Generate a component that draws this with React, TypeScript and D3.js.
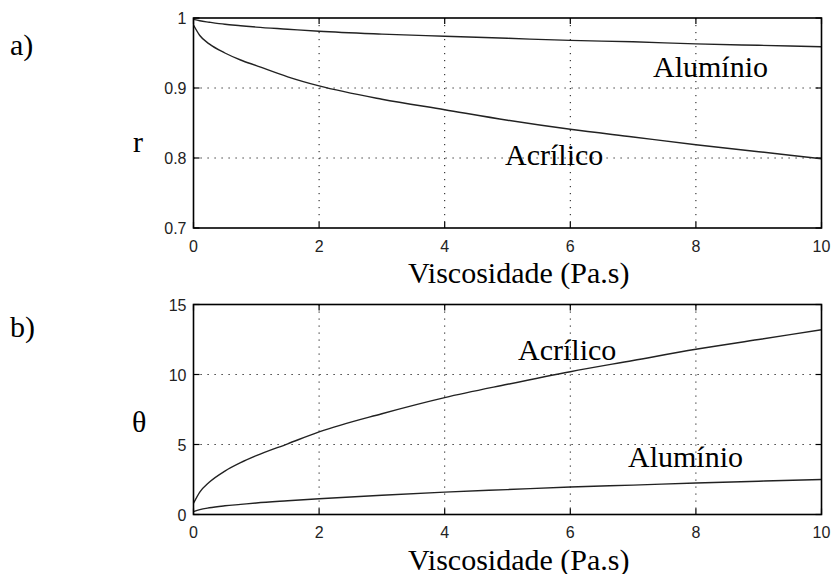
import React from "react";
import * as d3 from "d3";

// Viscosity samples (Pa.s) and the curves read at those points
const viscosity = [0, 0.1, 0.25, 0.5, 0.75, 1, 1.5, 2, 3, 4, 5, 6, 7, 8, 9, 10];
const rAluminio = [0.998, 0.996, 0.994, 0.991, 0.989, 0.987, 0.984, 0.981, 0.977, 0.974, 0.971, 0.968, 0.966, 0.963, 0.961, 0.959];
const rAcrilico = [0.99, 0.975, 0.963, 0.95, 0.94, 0.932, 0.916, 0.903, 0.884, 0.869, 0.854, 0.841, 0.83, 0.819, 0.809, 0.799];
const thetaAluminio = [0.2, 0.35, 0.48, 0.62, 0.72, 0.82, 0.98, 1.13, 1.38, 1.6, 1.78, 1.96, 2.1, 2.25, 2.38, 2.5];
const thetaAcrilico = [0.8, 1.6, 2.3, 3.1, 3.7, 4.2, 5.05, 5.9, 7.2, 8.35, 9.3, 10.2, 11.0, 11.8, 12.5, 13.2];

const xTicks = [0, 2, 4, 6, 8, 10];
const rTicks = [0.7, 0.8, 0.9, 1];
const thetaTicks = [0, 5, 10, 15];

const W = 832;
const H = 574;
const X0 = 193.5;
const X1 = 821.5;

const serif = "Liberation Serif";
const sans = "Liberation Sans";

type PanelProps = {
  top: number;
  bottom: number;
  yDomain: [number, number];
  yTicks: number[];
  series: number[][];
  yFmt: (v: number) => string;
};

function Panel({ top, bottom, yDomain, yTicks, series, yFmt }: PanelProps) {
  const x = d3.scaleLinear().domain([0, 10]).range([X0, X1]);
  const y = d3.scaleLinear().domain(yDomain).range([bottom, top]);
  const line = d3
    .line<number>()
    .x((_, i) => x(viscosity[i]))
    .y((d) => y(d))
    .curve(d3.curveMonotoneX);
  const tl = 6;
  return (
    <g>
      {/* dotted grid */}
      {xTicks.slice(1, -1).map((t) => (
        <line key={"gx" + t} x1={x(t)} x2={x(t)} y1={top} y2={bottom} stroke="#111" strokeWidth={1} strokeDasharray="1.2,5.8" />
      ))}
      {yTicks.slice(1, -1).map((t) => (
        <line key={"gy" + t} x1={X0} x2={X1} y1={y(t)} y2={y(t)} stroke="#111" strokeWidth={1} strokeDasharray="1.2,5.8" />
      ))}
      {/* inward ticks */}
      {xTicks.map((t) => (
        <g key={"tx" + t}>
          <line x1={x(t)} x2={x(t)} y1={bottom} y2={bottom - tl} stroke="#000" strokeWidth={1.2} />
          <line x1={x(t)} x2={x(t)} y1={top} y2={top + tl} stroke="#000" strokeWidth={1.2} />
        </g>
      ))}
      {yTicks.map((t) => (
        <g key={"ty" + t}>
          <line x1={X0} x2={X0 + tl} y1={y(t)} y2={y(t)} stroke="#000" strokeWidth={1.2} />
          <line x1={X1} x2={X1 - tl} y1={y(t)} y2={y(t)} stroke="#000" strokeWidth={1.2} />
        </g>
      ))}
      {/* curves */}
      {series.map((s, i) => (
        <path key={"s" + i} d={line(s) || ""} fill="none" stroke="#222" strokeWidth={1.4} />
      ))}
      {/* axes box */}
      <rect x={X0} y={top} width={X1 - X0} height={bottom - top} fill="none" stroke="#000" strokeWidth={1.6} />
      {/* tick labels */}
      {xTicks.map((t) => (
        <text key={"lx" + t} x={x(t)} y={bottom + 23.5} textAnchor="middle" style={{ fontFamily: sans, fontSize: 16 }} fill="#222">
          {t}
        </text>
      ))}
      {yTicks.map((t) => (
        <text key={"ly" + t} x={X0 - 7} y={y(t) + 6} textAnchor="end" style={{ fontFamily: sans, fontSize: 16 }} fill="#222">
          {yFmt(t)}
        </text>
      ))}
      <text x={408} y={bottom + 55} style={{ fontFamily: serif, fontSize: 30 }} fill="#000">
        Viscosidade (Pa.s)
      </text>
    </g>
  );
}

const label = { fontFamily: serif, fontSize: 30 };

export default function App() {
  return (
    <svg width={W} height={H} style={{ position: "absolute", left: 0, top: 0, background: "#fff" }}>
      <rect width={W} height={H} fill="#fff" />
      <Panel top={18} bottom={228} yDomain={[0.7, 1]} yTicks={rTicks} series={[rAluminio, rAcrilico]} yFmt={(v) => (v === 1 ? "1" : d3.format(".1f")(v))} />
      <Panel top={304.5} bottom={514.5} yDomain={[0, 15]} yTicks={thetaTicks} series={[thetaAluminio, thetaAcrilico]} yFmt={(v) => String(v)} />

      <text x={10} y={55} style={label} fill="#000">a)</text>
      <text x={133} y={152} style={label} fill="#000">r</text>
      <text x={653} y={77} style={label} fill="#000">Alumínio</text>
      <text x={505} y={165} style={label} fill="#000">Acrílico</text>

      <text x={10} y={337} style={label} fill="#000">b)</text>
      <text x={132} y={432} style={label} fill="#000">θ</text>
      <text x={518} y={360} style={label} fill="#000">Acrílico</text>
      <text x={628} y={467} style={label} fill="#000">Alumínio</text>
    </svg>
  );
}
